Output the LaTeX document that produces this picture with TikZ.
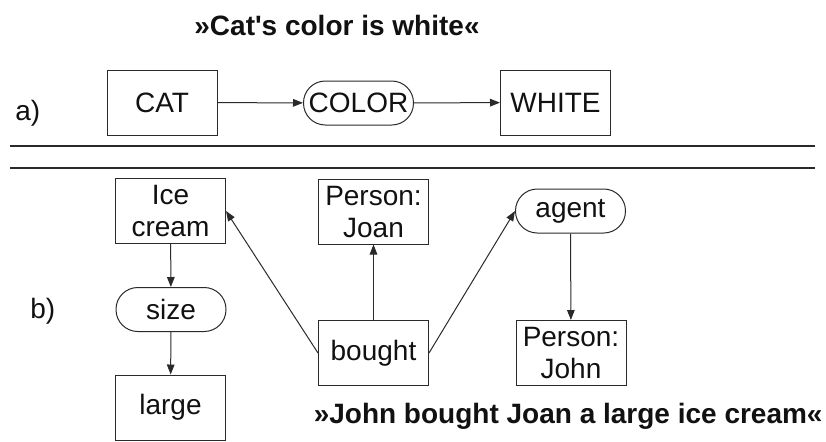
\documentclass[tikz,border=0pt]{standalone}
\usepackage{fontspec}
\setmainfont{Liberation Sans}
\usetikzlibrary{arrows.meta}
\definecolor{ink}{HTML}{111111}
\definecolor{edge}{HTML}{2A2A2A}
\tikzset{
  box/.style={draw=edge,line width=0.5pt,minimum width=55pt,minimum height=32.5pt,text width=54pt,align=center,inner sep=0pt,font=\fontsize{14}{16}\selectfont,text=ink},
  pill/.style={box,rounded corners=10.9pt,minimum height=22pt},
  link/.style={-{Triangle[length=5pt,width=3.8pt]},line width=0.5pt,edge},
  rule/.style={line width=0.55pt,edge},
  lab/.style={font=\fontsize{14}{16}\selectfont,inner sep=0pt,text=ink},
  head/.style={font=\fontsize{14}{16}\selectfont\bfseries,inner sep=0pt,text=ink}
}
\begin{document}
\begin{tikzpicture}[x=0.5pt,y=-0.5pt]
\useasboundingbox (0,0) rectangle (826,441);
% ---------------- a) ----------------
\node[head,anchor=base] (titlea) at (337,35) {»Cat\textquotesingle s color is white«};
\node[lab,anchor=base west] (parta) at (15,120) {a)};
\node[box] (cat) at (162,102.5) {CAT};
\node[pill] (color) at (358.5,103) {COLOR};
\node[box] (white) at (555.5,102.5) {WHITE};
\draw[link] (cat) -- (color);
\draw[link] (color) -- (white);
% separators
\draw[rule] (10,146) -- (815,146);
\draw[rule] (10,168) -- (815,168);
% ---------------- b) ----------------
\node[lab,anchor=base west] (partb) at (30,318) {b)};
\node[box] (ice) at (170.5,211) {Ice\\cream};
\node[pill] (size) at (171,309.5) {size};
\node[box] (large) at (170.5,407.5) {large};
\node[box] (joan) at (373.5,211.5) {Person:\\Joan};
\node[box] (bought) at (373.5,353) {bought};
\node[pill] (agent) at (570.5,211) {agent};
\node[box] (john) at (571,353) {Person:\\John};
\draw[link] (ice) -- (size);
\draw[link] (size) -- (large);
\draw[link] (bought.west) -- (ice.east);
\draw[link] (bought) -- (joan);
\draw[link] (bought.east) -- (agent.west);
\draw[link] (agent) -- (john);
\node[head,anchor=base east] (titleb) at (823,423) {»John bought Joan a large ice cream«};
\end{tikzpicture}
\end{document}
